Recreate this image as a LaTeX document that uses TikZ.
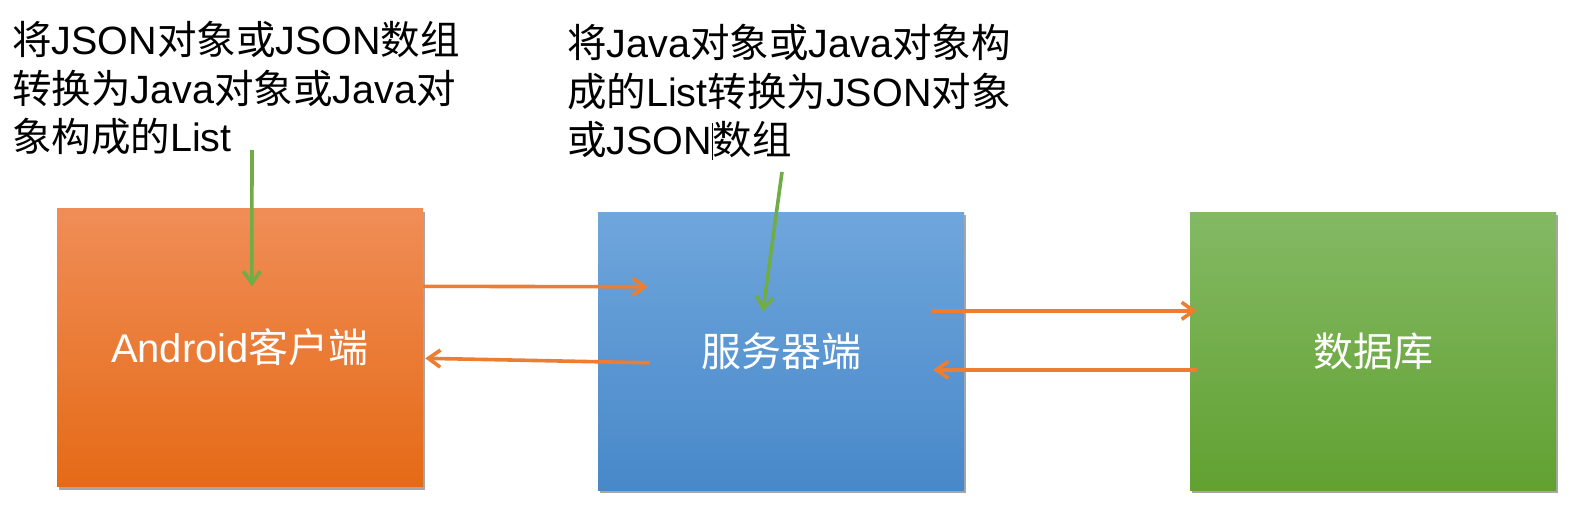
\documentclass[tikz,border=0pt]{standalone}
\usepackage{fontspec}
\setmainfont{Liberation Sans}
\newfontfamily\cjk{Noto Sans CJK SC}
\usetikzlibrary{arrows.meta,shadows}
\newcommand{\zh}[1]{{\cjk #1}}
\definecolor{arrorange}{HTML}{ED7D31}
\definecolor{arrgreen}{HTML}{70AD47}
\definecolor{orTop}{HTML}{F08D57}
\definecolor{orBot}{HTML}{E56A16}
\definecolor{blTop}{HTML}{6FA6DC}
\definecolor{blBot}{HTML}{4888C9}
\definecolor{grTop}{HTML}{84B964}
\definecolor{grBot}{HTML}{61A131}
\begin{document}
\begin{tikzpicture}[x=1pt,y=-1pt,
  blockbox/.style={rectangle, inner sep=0pt, minimum width=366pt, minimum height=278pt,
    text=white, font=\fontsize{40}{48}\selectfont,
    drop shadow={shadow xshift=2pt, shadow yshift=-3pt, opacity=0.35, fill=black}},
  note/.style={anchor=north west, inner sep=0pt, align=left, text=black,
    font=\fontsize{39.5}{48.5}\selectfont},
  oarr/.style={draw=arrorange, line width=3.6pt,
    -{Straight Barb[length=12pt,width=17pt]}},
  garr/.style={draw=arrgreen, line width=3.6pt,
    -{Straight Barb[length=12pt,width=17pt]}}]
\useasboundingbox (0,0) rectangle (1569,508);

\node[blockbox, top color=orTop, bottom color=orBot] (android) at (240,347.5) {Android\zh{客户端}};
\node[blockbox, top color=blTop, bottom color=blBot] (server) at (781,351) {\zh{服务器端}};
\node[blockbox, top color=grTop, bottom color=grBot] (db) at (1373,351) {\zh{数据库}};

\node[note] (t1) at (12,21) {\zh{将}JSON\zh{对象或}JSON\zh{数组}\\
\zh{转换为}Java\zh{对象或}Java\zh{对}\\
\zh{象构成的}List};
\node[note] (t2) at (567,24) {\zh{将}Java\zh{对象或}Java\zh{对象构}\\
\zh{成的}List\zh{转换为}JSON\zh{对象}\\
\zh{或}JSON{\vrule width 0.8pt height 32pt depth 5pt}\zh{数组}};

\coordinate (g1s) at (252,150);
\coordinate (g2s) at (782,172);

\draw[oarr] ([shift={(0,78)}]android.north east) -- ([shift={(50,75)}]server.north west);
\draw[oarr] ([shift={(52,151)}]server.north west) -- ([shift={(2,150)}]android.north east);
\draw[oarr] ([shift={(-32,99)}]server.north east) -- ([shift={(7,99)}]db.north west);
\draw[oarr] ([shift={(7,158)}]db.north west) -- ([shift={(-31,158)}]server.north east);

\draw[garr] (g1s) -- ([shift={(195,78)}]android.north west);
\draw[garr] (g2s) -- ([shift={(165,100)}]server.north west);
\end{tikzpicture}
\end{document}
